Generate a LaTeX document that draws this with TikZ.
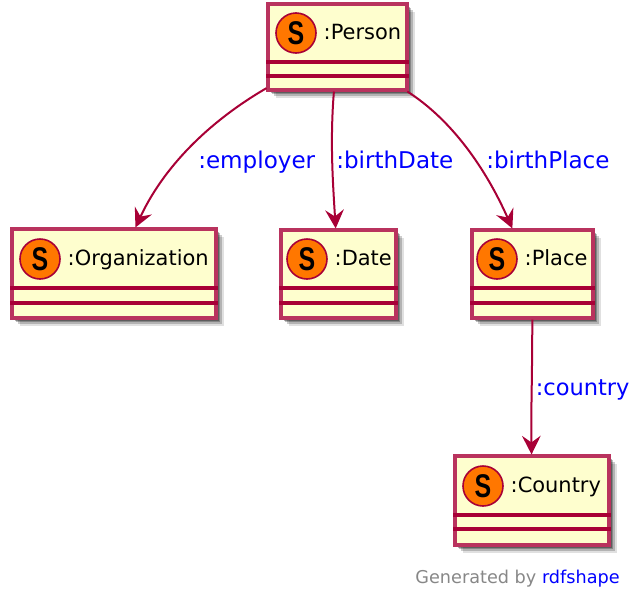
\documentclass[tikz,border=0pt]{standalone}
\usepackage{fontspec}
\usepackage{graphicx}
\setmainfont{DejaVu Sans}
\newfontfamily\iconfont{Liberation Sans}
\usetikzlibrary{positioning, shadows, arrows.meta}

\definecolor{umlred}{HTML}{A80036}
\definecolor{umlfill}{HTML}{FEFECE}
\definecolor{umlorange}{HTML}{FF7700}

\newcommand{\stereoS}{\scalebox{.85}[1.12]{S}}

\tikzset{
    classbox/.style={draw=umlred!80!white, line width=2.3pt, fill=umlfill, inner sep=0pt,
        drop shadow={shadow xshift=2pt, shadow yshift=-2pt, opacity=.3, fill=black},
        drop shadow={shadow xshift=3.2pt, shadow yshift=-3.2pt, opacity=.25, fill=black},
        drop shadow={shadow xshift=4.4pt, shadow yshift=-4.4pt, opacity=.2, fill=black},
        drop shadow={shadow xshift=5.8pt, shadow yshift=-5.8pt, opacity=.12, fill=black}},
    sicon/.style={circle, draw=umlred, line width=1.2pt, fill=umlorange, inner sep=0pt,
        minimum size=30pt, font=\iconfont\fontsize{22}{22}\selectfont\bfseries},
    classname/.style={inner sep=0pt, text height=12pt, text depth=3pt, yshift=-.5pt,
        font=\fontsize{15.7}{18}\selectfont},
    classline/.style={umlred, line width=2.3pt},
    proplabel/.style={anchor=west, inner sep=0pt, text=blue, text height=13pt, text depth=4pt,
        font=\fontsize{17.3}{20}\selectfont},
    proparrow/.style={umlred, line width=1.5pt, -{Stealth[length=14pt, width=14pt, inset=5pt]}}
}

\begin{document}
\begin{tikzpicture}[x=0.75pt, y=-0.75pt]
\useasboundingbox (0,0) rectangle (629,593);

% classes
\node[classbox, minimum width=104.25pt, minimum height=64.5pt] (person) at (337.5,47) {};
\node[sicon] (personS) at (296,33) {\stereoS};
\node[classname, right=5pt of personS] (personL) {:Person};
\draw[classline] (person.west |- 0,62) -- (person.east |- 0,62);
\draw[classline] (person.west |- 0,76) -- (person.east |- 0,76);

\node[classbox, minimum width=153pt, minimum height=66.75pt] (organization) at (114,273.5) {};
\node[sicon] (organizationS) at (40,259) {\stereoS};
\node[classname, right=5pt of organizationS] (organizationL) {:Organization};
\draw[classline] (organization.west |- 0,288) -- (organization.east |- 0,288);
\draw[classline] (organization.west |- 0,303) -- (organization.east |- 0,303);

\node[classbox, minimum width=86.25pt, minimum height=66pt] (date) at (338.5,274) {};
\node[sicon] (dateS) at (307,259) {\stereoS};
\node[classname, right=5pt of dateS] (dateL) {:Date};
\draw[classline] (date.west |- 0,288) -- (date.east |- 0,288);
\draw[classline] (date.west |- 0,303) -- (date.east |- 0,303);

\node[classbox, minimum width=90.75pt, minimum height=66pt] (place) at (532.5,274) {};
\node[sicon] (placeS) at (497,259) {\stereoS};
\node[classname, right=5pt of placeS] (placeL) {:Place};
\draw[classline] (place.west |- 0,288) -- (place.east |- 0,288);
\draw[classline] (place.west |- 0,303) -- (place.east |- 0,303);

\node[classbox, minimum width=115.5pt, minimum height=66.75pt] (country) at (532,500.5) {};
\node[sicon] (countryS) at (483,486) {\stereoS};
\node[classname, right=5pt of countryS] (countryL) {:Country};
\draw[classline] (country.west |- 0,515) -- (country.east |- 0,515);
\draw[classline] (country.west |- 0,529) -- (country.east |- 0,529);

% properties
\draw[proparrow] (person) .. controls (215,118) and (166,162) .. (organization);
\draw[proparrow] (person) .. controls (330,140) and (332.7,180) .. (date);
\draw[proparrow] (person) .. controls (452,120) and (486,169) .. (place);
\draw[proparrow] (place) .. controls (532,400) and (531,400) .. (country);

\node[proplabel] (employerL) at (198,162.5) {:employer};
\node[proplabel] (birthDateL) at (336,162.5) {:birthDate};
\node[proplabel] (birthPlaceL) at (486,162.5) {:birthPlace};
\node[proplabel, font=\fontsize{16.9}{20}\selectfont] (countryP) at (535.5,389.5) {:country};

\node[anchor=east, inner sep=0pt, text=black!47, font=\fontsize{13.25}{16}\selectfont] (footer) at (620,579)
    {Generated by \textcolor{blue}{rdfshape}};
\end{tikzpicture}
\end{document}
